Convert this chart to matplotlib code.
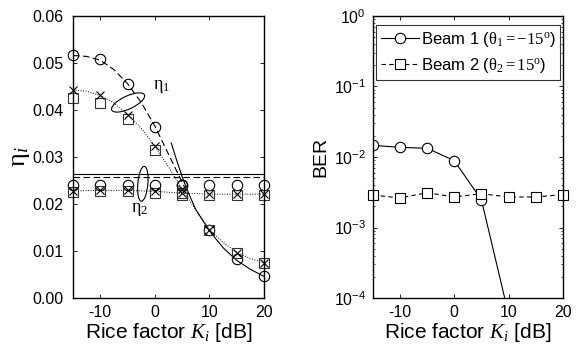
import matplotlib
matplotlib.use("Agg")
import matplotlib.pyplot as plt
from matplotlib.patches import Ellipse
from matplotlib.transforms import ScaledTranslation
from matplotlib.ticker import FixedLocator, FixedFormatter

plt.rcParams['font.family'] = ['Liberation Sans', 'DejaVu Sans']
plt.rcParams['mathtext.fontset'] = 'custom'
plt.rcParams['mathtext.rm'] = 'Liberation Serif'
plt.rcParams['mathtext.it'] = 'Liberation Serif:italic'
plt.rcParams['mathtext.bf'] = 'Liberation Serif:bold'
plt.rcParams['mathtext.sf'] = 'Liberation Sans'
plt.rcParams['mathtext.fallback'] = 'stix'
plt.rcParams['axes.unicode_minus'] = False

# ---------------- data: left panel (eta) ----------------
K = [-15, -10, -5, 0, 5, 10, 15, 20]
eta1_circ = [0.0516, 0.0508, 0.0455, 0.0364, 0.0241, 0.0144, 0.0082, 0.0046]
eta1_cross = [0.0442, 0.0431, 0.0390, 0.0323, 0.0231, 0.0144, 0.0096, 0.0075]
eta1_sq = [0.0426, 0.0415, 0.0381, 0.0315, 0.0224, 0.0144, 0.0096, 0.0075]
eta2_circ = [0.0240, 0.0240, 0.0240, 0.0240, 0.0240, 0.0240, 0.0240, 0.0240]
eta2_cross = [0.0228, 0.0229, 0.0229, 0.0227, 0.0223, 0.0221, 0.0221, 0.0221]
eta2_sq = [0.0225, 0.0227, 0.0227, 0.0224, 0.0220, 0.0219, 0.0219, 0.0219]

# curves
dash_x = [-15, -12.5, -10, -7.5, -5, -2.5, 0, 2.5, 5, 6]
dash_y = [0.0516, 0.0514, 0.0506, 0.0486, 0.0456, 0.0416, 0.0366, 0.0306, 0.0246, 0.0222]
solid_x = [3, 4, 5, 6, 7.5, 10, 12.5, 15, 17.5, 20]
solid_y = [0.0330, 0.0293, 0.0258, 0.0228, 0.0188, 0.0143, 0.0107, 0.0080, 0.0061, 0.0046]
dot_x = [-15, -12.5, -10, -7.5, -5, -2.5, 0, 2.5, 5, 7.5, 10, 12.5, 15, 17.5, 20]
dot_y = [0.0442, 0.0440, 0.0431, 0.0415, 0.0391, 0.0361, 0.0323, 0.0279, 0.0232, 0.0187, 0.0146, 0.0118, 0.0097, 0.0084, 0.0075]
eta_solid_level = 0.0263
eta_dash_level = 0.0257

# ---------------- data: right panel (BER) ----------------
ber_beam1 = [0.01465, 0.0137, 0.0133, 0.00887, 0.00248, 5.9e-5, 1e-6, 1e-7]
ber_beam2 = [0.00289, 0.00262, 0.00312, 0.00271, 0.00302, 0.00271, 0.00271, 0.00293]
ber_ticks = [1e-4, 1e-3, 1e-2, 1e-1, 1e0]
ber_ticklabels = [r'$\mathsf{10^{-4}}$', r'$\mathsf{10^{-3}}$', r'$\mathsf{10^{-2}}$',
                  r'$\mathsf{10^{-1}}$', r'$\mathsf{10^{0}}$']

fig = plt.figure(figsize=(5.79, 3.47), dpi=100)
ax1 = fig.add_axes([0.126, 0.1412, 0.330, 0.8127])
ax2 = fig.add_axes([0.644, 0.1412, 0.328, 0.8127])

lw = 0.8
ms_c = 7.5
ms_s = 6.5
dotted = (0, (1, 1.6))
dashed = (0, (6, 3))
# ---- left panel ----
ax1.plot(dash_x, dash_y, color='k', lw=lw, ls=dashed)
ax1.plot(solid_x, solid_y, color='k', lw=lw, ls='-')
ax1.plot(dot_x, dot_y, color='k', lw=0.7, ls=dotted)
ax1.axhline(eta_solid_level, color='k', lw=lw)
ax1.axhline(eta_dash_level, color='k', lw=lw, ls=dashed)
ax1.plot(K, eta2_cross, color='k', lw=0.7, ls=dotted)

for ys in (eta1_circ, eta2_circ):
    ax1.plot(K, ys, ls='none', marker='o', ms=ms_c, mfc='none', mec='k', mew=lw, clip_on=False)
for ys in (eta1_sq, eta2_sq):
    ax1.plot(K, ys, ls='none', marker='s', ms=ms_s, mfc='none', mec='#333333', mew=lw, clip_on=False)
for ys in (eta1_cross, eta2_cross):
    ax1.plot(K, ys, ls='none', marker='x', ms=6, mec='k', mew=lw, clip_on=False)

ax1.set_xlim(-15, 20)
ax1.set_ylim(0, 0.06)
ax1.set_xticks([-10, 0, 10, 20])
ax1.set_yticks([0, 0.01, 0.02, 0.03, 0.04, 0.05, 0.06])
ax1.set_yticklabels(['0.00', '0.01', '0.02', '0.03', '0.04', '0.05', '0.06'])
ax1.set_xlabel(r'Rice factor $K_i$ [dB]', fontsize=15, labelpad=1)
ax1.set_ylabel(r'$\mathrm{\eta}_i$', fontsize=19, labelpad=0)

# annotation ellipses
t1 = fig.dpi_scale_trans + ScaledTranslation(-4.9, 0.0416, ax1.transData)
ax1.add_patch(Ellipse((0, 0), 0.36, 0.13, angle=25, fill=False, lw=lw, ec='k', transform=t1))
t2 = fig.dpi_scale_trans + ScaledTranslation(-2.2, 0.0243, ax1.transData)
ax1.add_patch(Ellipse((0, 0), 0.10, 0.35, angle=-5, fill=False, lw=lw, ec='k', transform=t2))
ax1.text(1.2, 0.0451, r'$\mathrm{\eta}_1$', fontsize=13, ha='center', va='center')
ax1.text(-2.8, 0.0188, r'$\mathrm{\eta}_2$', fontsize=13, ha='center', va='center')

# ---- right panel ----
ax2.plot(K, ber_beam1, color='k', lw=lw, marker='o', ms=ms_c, mfc='white', mec='k', mew=lw,
         label=r'Beam 1 ($\mathrm{\theta}_1 = -15^{\mathrm{o}}$)')
ax2.plot(K, ber_beam2, color='k', lw=lw, ls=(0, (4, 3)), marker='s', ms=ms_s, mfc='white', mec='k', mew=lw,
         label=r'Beam 2 ($\mathrm{\theta}_2 = 15^{\mathrm{o}}$)', clip_on=False)
ax2.set_yscale('log')
ax2.set_xlim(-15, 20)
ax2.set_ylim(1e-4, 1)
ax2.set_xticks([-10, 0, 10, 20])
ax2.yaxis.set_major_locator(FixedLocator(ber_ticks))
ax2.yaxis.set_major_formatter(FixedFormatter(ber_ticklabels))
ax2.set_xlabel(r'Rice factor $K_i$ [dB]', fontsize=15, labelpad=1)
ax2.set_ylabel('BER', fontsize=14, labelpad=3)
leg = ax2.legend(loc='lower left', bbox_to_anchor=(0.014, 0.774, 0.971, 0.184), mode='expand',
                 borderaxespad=0, fontsize=12, frameon=True, fancybox=False, handlelength=2.3,
                 handletextpad=0.1, borderpad=0.3, labelspacing=0.4)
leg.get_frame().set_edgecolor('k')
leg.get_frame().set_linewidth(lw)

for ax in (ax1, ax2):
    ax.tick_params(direction='in', top=True, right=True, labelsize=11.5, length=3, width=0.6, pad=5)
    ax.tick_params(which='minor', direction='in', top=False, right=True, length=1.5, width=0.5)
    for s in ax.spines.values():
        s.set_linewidth(1.0)
ax1.minorticks_off()
ax1.tick_params(axis='y', pad=7)

fig.savefig('out.png', dpi=100)
